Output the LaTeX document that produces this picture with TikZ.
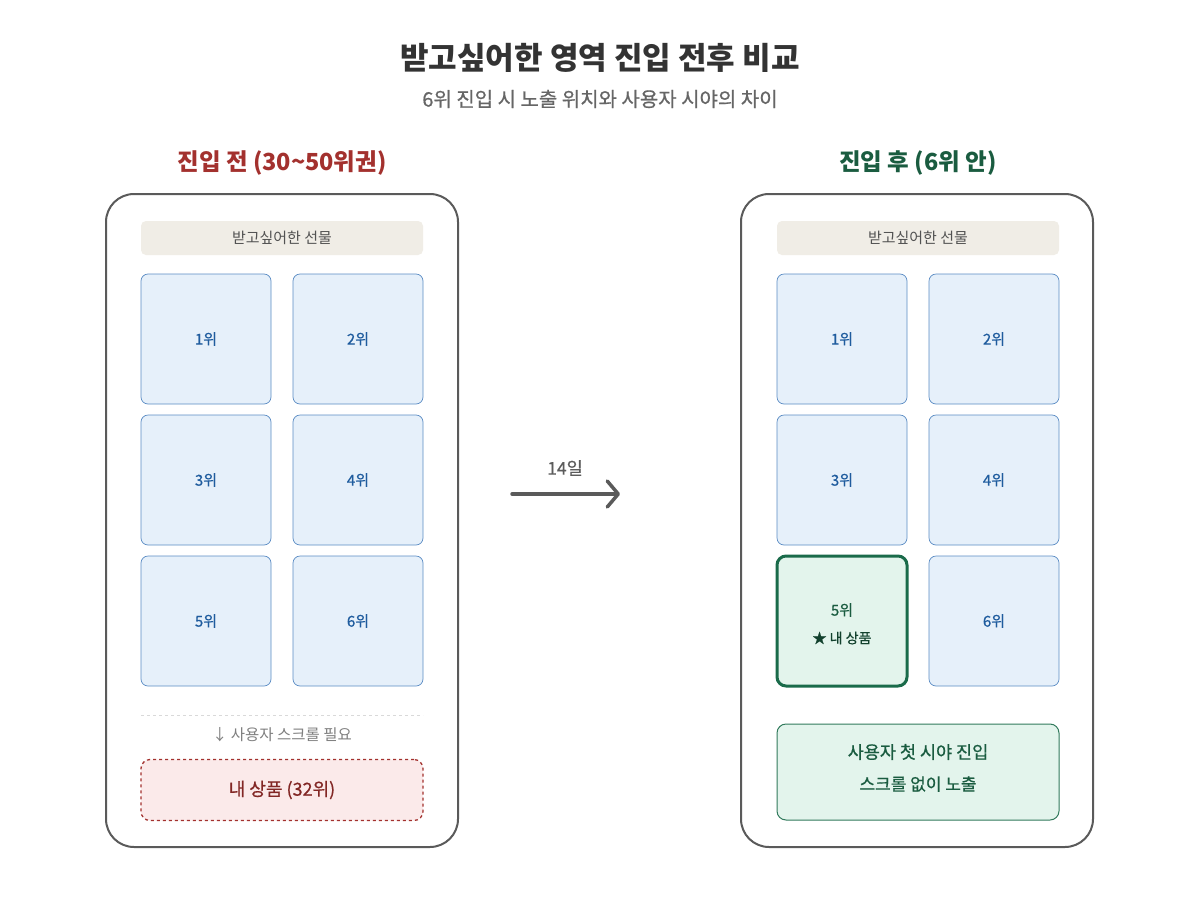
\documentclass[tikz,border=0pt]{standalone}
\usepackage{fontspec}
\setmainfont{Noto Sans CJK KR}
\newfontfamily\med{Noto Sans CJK KR}[FakeBold=0.7]
\usetikzlibrary{arrows.meta}
\definecolor{ink}{HTML}{333333}
\definecolor{phone}{HTML}{5A5A5A}
\definecolor{tilef}{HTML}{E6F0FA}
\definecolor{tiled}{HTML}{5B8CC4}
\definecolor{tilet}{HTML}{1F5C9E}
\definecolor{redt}{HTML}{A3312E}
\definecolor{redf}{HTML}{FBEAEA}
\definecolor{grnt}{HTML}{1A5C40}
\definecolor{grnf}{HTML}{E3F4EC}
\definecolor{grnd}{HTML}{1A6B4A}
\definecolor{hdrf}{HTML}{F0EDE6}
\begin{document}
\begin{tikzpicture}[x=1pt,y=-1pt,
  phonebox/.style={draw=phone,line width=2pt,rounded corners=28pt,fill=white},
  hdr/.style={fill=hdrf,rounded corners=5pt,minimum width=282pt,minimum height=34pt,inner sep=0pt,font=\fontsize{15}{17}\selectfont,text=ink!85},
  tile/.style={fill=tilef,draw=tiled,line width=0.7pt,rounded corners=7pt,minimum width=130pt,minimum height=130pt,inner sep=0pt,font=\med\fontsize{15}{17}\selectfont,text=tilet},
  mytile/.style={fill=grnf,draw=grnd,line width=3pt,rounded corners=9pt,minimum width=130pt,minimum height=130pt,inner sep=0pt,text=grnt,align=center},
  heading/.style={font=\fontsize{23.5}{26}\selectfont\bfseries}]
\useasboundingbox (0,0) rectangle (1200,900);
\node[font=\fontsize{31}{35}\selectfont\bfseries,text=ink] (title) at (600,58) {받고싶어한 영역 진입 전후 비교};
\node[font=\med\fontsize{20}{23}\selectfont,text=ink!75] (sub) at (600,99) {6위 진입 시 노출 위치와 사용자 시야의 차이};
\node[heading,text=redt] (lh) at (282,163) {진입 전 (30\textasciitilde 50위권)};
\node[heading,text=grnt] (rh) at (918,163) {진입 후 (6위 안)};
% left phone
\draw[phonebox] (106,194) rectangle (458,847);
\node[hdr] (lhdr) at (282,238) {받고싶어한 선물};
\node[tile] (l1) at (206,339) {1위};
\node[tile] (l2) at (358,339) {2위};
\node[tile] (l3) at (206,480) {3위};
\node[tile] (l4) at (358,480) {4위};
\node[tile] (l5) at (206,621) {5위};
\node[tile] (l6) at (358,621) {6위};
\draw[dashed,draw=black!15,line width=0.8pt] (141,715) -- (423,715);
\node[font=\fontsize{15.5}{18}\selectfont,text=black!50] (scroll) at (282,735) {↓ 사용자 스크롤 필요};
\node[fill=redf,draw=redt,dashed,line width=1.3pt,rounded corners=9pt,minimum width=282pt,minimum height=61pt,inner sep=0pt,font=\med\fontsize{18}{21}\selectfont,text=redt!80!black] (mine) at (282,790) {내 상품 (32위)};
% arrow
\coordinate (a1) at (512,494);
\coordinate (a2) at (620,494);
\draw[phone,line width=3.5pt,-{Straight Barb[length=11pt,width=26pt,line cap=round,line join=round]},line cap=round] (a1) -- (a2);
\node[font=\med\fontsize{17.5}{20}\selectfont,text=ink!80] (days) at (565,468) {14일};
% right phone
\draw[phonebox] (741,194) rectangle (1093,847);
\node[hdr] (rhdr) at (918,238) {받고싶어한 선물};
\node[tile] (r1) at (842,339) {1위};
\node[tile] (r2) at (994,339) {2위};
\node[tile] (r3) at (842,480) {3위};
\node[tile] (r4) at (994,480) {4위};
\node[mytile] (r5) at (842,621) {};
\node[font=\med\fontsize{15}{17}\selectfont,text=grnt] at (842,610) {5위};
\node[font=\med\fontsize{14}{16}\selectfont,text=grnt!70!black] at (842,638) {★ 내 상품};
\node[tile] (r6) at (994,621) {6위};
\node[fill=grnf,draw=grnd!90,line width=1pt,rounded corners=9pt,minimum width=282pt,minimum height=96pt,inner sep=0pt] (vis) at (918,772) {};
\node[font=\med\fontsize{17.5}{20}\selectfont,text=grnt] at (918,752) {사용자 첫 시야 진입};
\node[font=\med\fontsize{17}{20}\selectfont,text=grnt] at (918,784) {스크롤 없이 노출};
\end{tikzpicture}
\end{document}
